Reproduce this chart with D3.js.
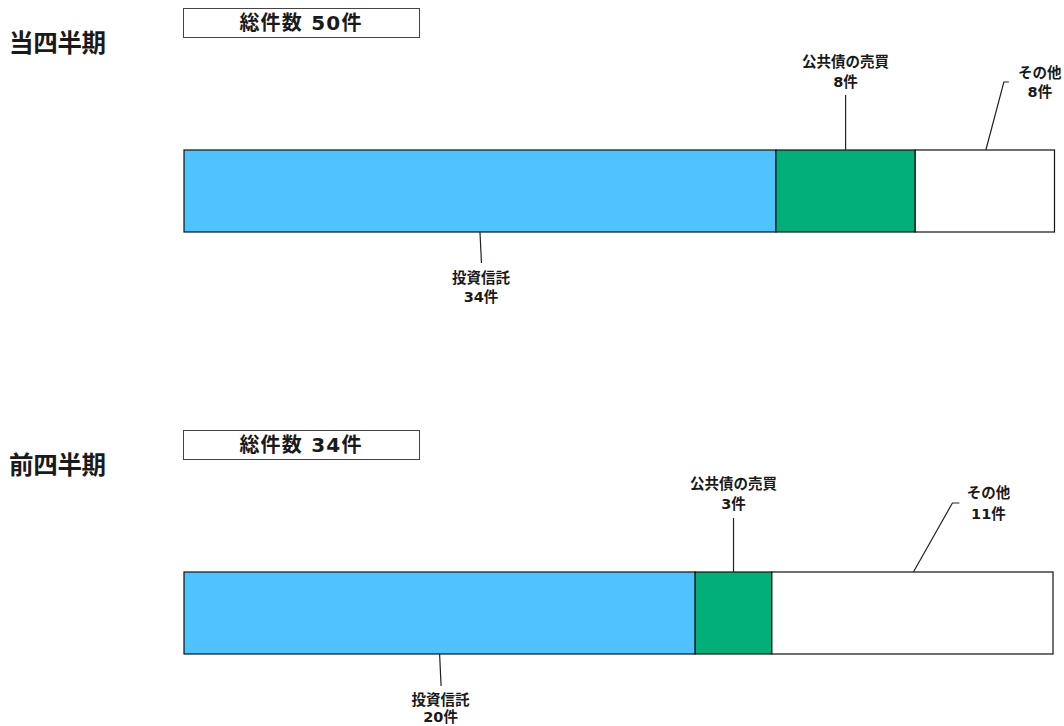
<!DOCTYPE html>
<html lang="ja">
<head>
<meta charset="utf-8">
<script src="https://cdn.jsdelivr.net/npm/d3@7/dist/d3.min.js"></script>
<style>
  html, body { margin: 0; padding: 0; background: #fff; }
  svg { display: block; font-family: "DejaVu Sans", "Noto Sans CJK JP", sans-serif; }
</style>
</head>
<body>
<svg id="chart" width="1064" height="726"></svg>
<script>
// Categories and counts per quarter
const categories = ["投資信託", "公共債の売買", "その他"];
const periodLabels = ["当四半期", "前四半期"];
const currentCounts = [34, 8, 8];
const previousCounts = [20, 3, 11];
const segmentColors = ["#4fc3ff", "#03af79", "#ffffff"];

const svg = d3.select("#chart");
const textColor = "#1a1a1a";

// Callout placement for each segment (relative to the bar / segment centre)
const calloutLayouts = [
  [
    { side: "below", lineLen: 31, line1: 46, line2: 65 },
    { side: "above", lineLen: 55, line1: 88, line2: 68 },
    { side: "elbow", elbowDx: 19, elbowDy: 68, tailDx: 24, labelDx: 55, line1: 77, line2: 58 }
  ],
  [
    { side: "below", lineLen: 32, line1: 46, line2: 63 },
    { side: "above", lineLen: 54, line1: 88, line2: 68 },
    { side: "elbow", elbowDx: 40, elbowDy: 69, tailDx: 47, labelDx: 76, line1: 79, line2: 58 }
  ]
];

const periods = [
  { label: periodLabels[0], counts: currentCounts, offsetY: 0, right: 1054.5 },
  { label: periodLabels[1], counts: previousCounts, offsetY: 422, right: 1053 }
];

const barLeft = 184, barTop = 150, barH = 82;

periods.forEach((p, pi) => {
  const g = svg.append("g").attr("transform", `translate(0,${p.offsetY})`);
  const total = d3.sum(p.counts);

  // Period title
  g.append("text")
    .attr("x", 9).attr("y", 43)
    .attr("dominant-baseline", "central")
    .attr("font-size", 24.5).attr("font-weight", 700)
    .attr("letter-spacing", -0.3)
    .attr("fill", textColor)
    .text(p.label);

  // Total count box
  g.append("rect")
    .attr("x", 183.5).attr("y", 8.5)
    .attr("width", 236).attr("height", 29)
    .attr("fill", "#fff").attr("stroke", "#444").attr("stroke-width", 1);
  g.append("text")
    .attr("x", 301).attr("y", 23)
    .attr("text-anchor", "middle").attr("dominant-baseline", "central")
    .attr("font-size", 20).attr("font-weight", 700)
    .attr("letter-spacing", 1.2)
    .attr("fill", textColor)
    .text(`総件数 ${total}件`);

  // Stacked bar
  const x = d3.scaleLinear().domain([0, total]).range([barLeft, p.right]);
  const cum = d3.cumsum(p.counts);
  const segs = p.counts.map((v, i) => ({
    name: categories[i], value: v,
    x0: i === 0 ? 0 : cum[i - 1], x1: cum[i],
    color: segmentColors[i], layout: calloutLayouts[pi][i]
  }));

  g.selectAll("rect.seg").data(segs).join("rect")
    .attr("class", "seg")
    .attr("x", d => x(d.x0)).attr("y", barTop)
    .attr("width", d => x(d.x1) - x(d.x0)).attr("height", barH)
    .attr("fill", d => d.color)
    .attr("stroke", "#111").attr("stroke-width", 1.2);

  // Callouts
  segs.forEach(d => {
    const mx = (x(d.x0) + x(d.x1)) / 2;
    const L = d.layout;
    let lx, y1, y2, path;
    if (L.side === "below") {
      const yb = barTop + barH;
      path = `M${mx},${yb}L${mx + 1.5},${yb + L.lineLen}`;
      lx = mx + 1; y1 = yb + L.line1; y2 = yb + L.line2;
    } else if (L.side === "above") {
      path = `M${mx},${barTop}L${mx},${barTop - L.lineLen}`;
      lx = mx; y1 = barTop - L.line1; y2 = barTop - L.line2;
    } else {
      path = `M${mx + 1},${barTop}L${mx + L.elbowDx},${barTop - L.elbowDy}L${mx + L.tailDx},${barTop - L.elbowDy}`;
      lx = mx + L.labelDx; y1 = barTop - L.line1; y2 = barTop - L.line2;
    }
    g.append("path").attr("d", path)
      .attr("fill", "none").attr("stroke", "#222").attr("stroke-width", 1.2);
    const t = g.append("text")
      .attr("text-anchor", "middle")
      .attr("font-size", 14.5).attr("font-weight", 700)
      .attr("fill", textColor);
    t.append("tspan").attr("x", lx).attr("y", y1).attr("dominant-baseline", "central").text(d.name);
    t.append("tspan").attr("x", lx).attr("y", y2).attr("dominant-baseline", "central").text(`${d.value}件`);
  });
});
</script>
</body>
</html>
